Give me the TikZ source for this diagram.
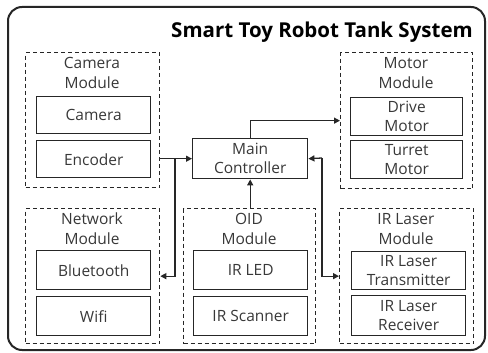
\documentclass[tikz,border=0pt]{standalone}
\usepackage{fontspec}
\setmainfont{Open Sans}
\usetikzlibrary{arrows.meta}
\definecolor{ln}{HTML}{262626}
\definecolor{tx}{HTML}{383838}
\tikzset{
  unitbox/.style={draw=ln, line width=1.4pt, rectangle, inner sep=0pt, anchor=north west, align=center, text=tx, font=\fontsize{15.5}{19}\selectfont},
  modbox/.style={draw=ln, line width=1.3pt, dash pattern=on 4pt off 3pt, rectangle, inner sep=0pt, anchor=north west},
  modlabel/.style={align=center, text=tx, font=\fontsize{15.5}{20}\selectfont, anchor=north, inner sep=0pt},
  conn/.style={draw=ln, line width=1.3pt, -{Triangle[length=6pt,width=6pt]}}
}
\begin{document}
\begin{tikzpicture}[x=1pt,y=-1pt]
\useasboundingbox (0,0) rectangle (488,353);
\node[draw=ln, line width=2pt, rounded corners=14pt, rectangle, anchor=north west, minimum width=477pt, minimum height=343pt, inner sep=0pt] (frame) at (7,6) {};
\node[anchor=base east, font=\bfseries\fontsize{20.5}{24}\selectfont, text=black, inner sep=0pt] (title) at (473,38) {Smart Toy Robot Tank System};

% Camera module
\node[modbox, minimum width=134pt, minimum height=135pt] (cammod) at (25,52) {};
\node[modlabel] (camlbl) at (92,57) {Camera\\Module};
\node[unitbox, minimum width=114pt, minimum height=37pt] (camera) at (36,96) {Camera};
\node[unitbox, minimum width=114pt, minimum height=37pt] (encoder) at (36,140) {Encoder};

% Network module
\node[modbox, minimum width=134pt, minimum height=135pt] (netmod) at (25,208) {};
\node[modlabel] (netlbl) at (92,213) {Network\\Module};
\node[unitbox, minimum width=114pt, minimum height=39pt] (bt) at (36,250) {Bluetooth};
\node[unitbox, minimum width=114pt, minimum height=39pt] (wifi) at (36,296) {Wifi};

% OID module
\node[modbox, minimum width=132pt, minimum height=135pt] (oidmod) at (183,208) {};
\node[modlabel] (oidlbl) at (249,213) {OID\\Module};
\node[unitbox, minimum width=114pt, minimum height=39pt] (irled) at (193,250) {IR LED};
\node[unitbox, minimum width=114pt, minimum height=39pt] (irscan) at (193,296) {IR Scanner};

% Motor module
\node[modbox, minimum width=132pt, minimum height=136pt] (motmod) at (340,52) {};
\node[modlabel] (motlbl) at (406,57) {Motor\\Module};
\node[unitbox, minimum width=112pt, minimum height=38pt] (drive) at (350,97) {Drive\\Motor};
\node[unitbox, minimum width=112pt, minimum height=38pt] (turret) at (350,140) {Turret\\Motor};

% IR Laser module
\node[modbox, minimum width=134pt, minimum height=135pt] (irmod) at (339,208) {};
\node[modlabel] (irlbl) at (406,213) {IR Laser\\Module};
\node[unitbox, minimum width=114pt, minimum height=38pt] (irtx) at (351,251) {IR Laser\\Transmitter};
\node[unitbox, minimum width=114pt, minimum height=40pt] (irrx) at (351,295) {IR Laser\\Receiver};

% Main controller
\node[unitbox, minimum width=115pt, minimum height=40pt] (main) at (192,138) {Main\\Controller};

% connectors
\coordinate (j1) at (175,158);
\coordinate (j2) at (322,158);
\draw[conn] (cammod.east |- main.west) -- (main.west);
\draw[conn] (j1) |- (netmod.east);
\draw[conn] (main.north) |- (motmod.west);
\draw[conn] (oidmod.north -| main.south) -- (main.south);
\draw[conn] (j2) -- (main.east);
\draw[conn] (j2) |- (irmod.west);
\end{tikzpicture}
\end{document}
